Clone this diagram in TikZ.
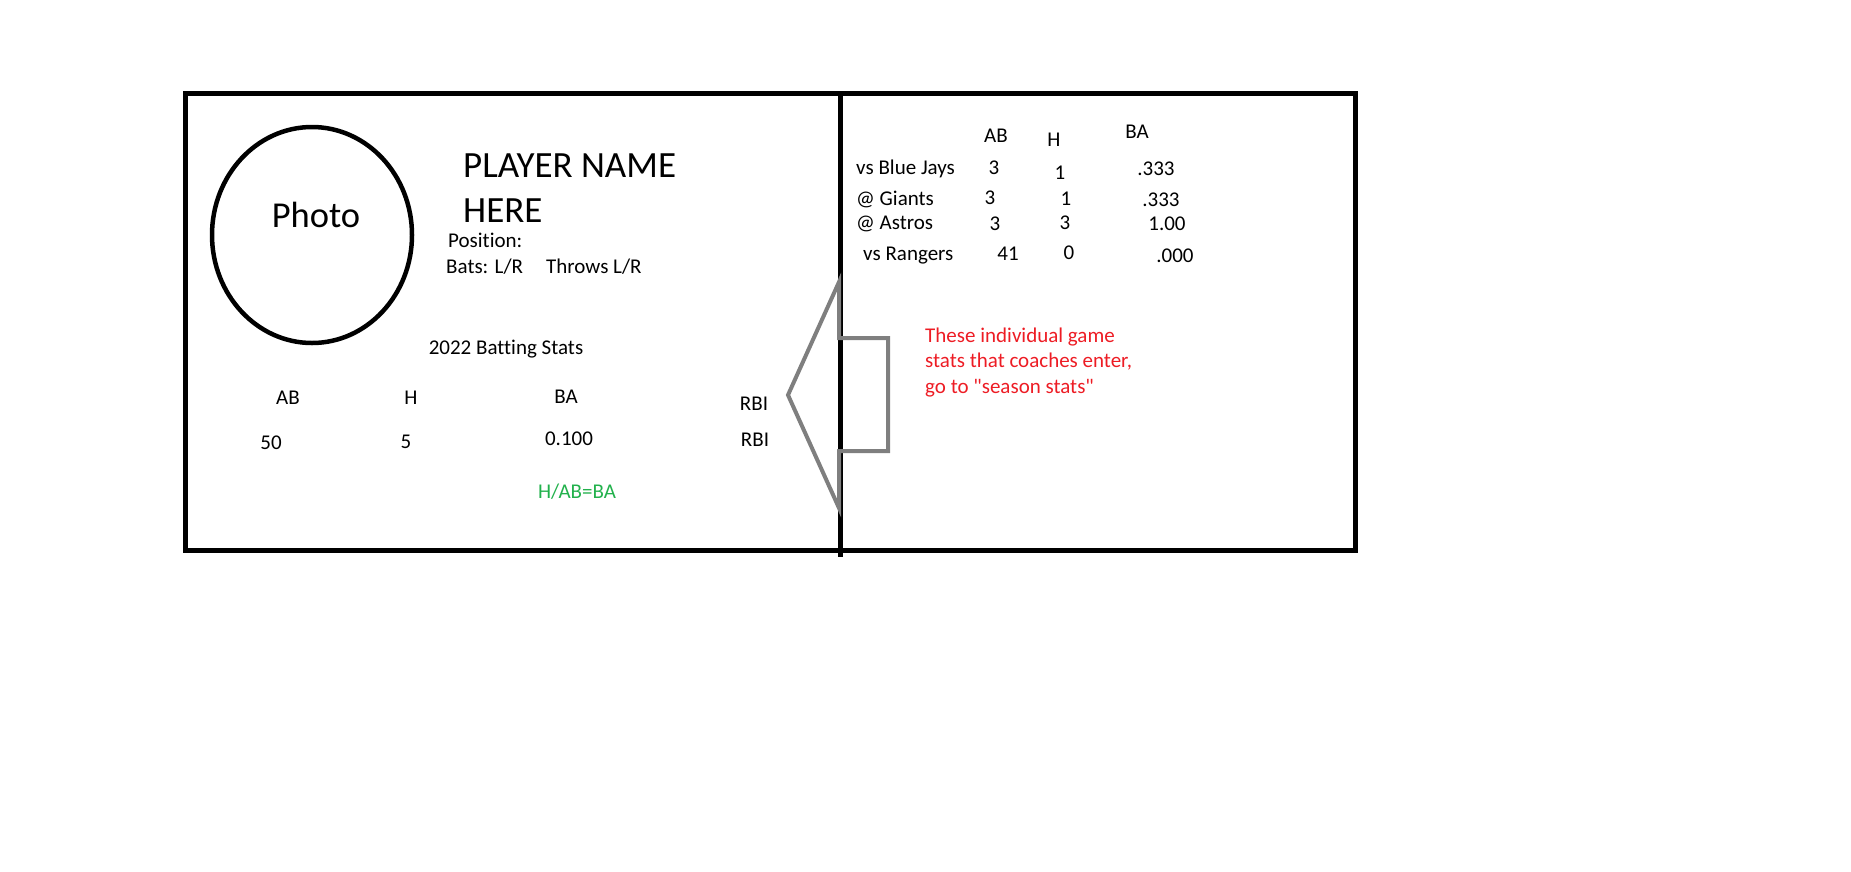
\documentclass[tikz,border=0pt]{standalone}
\usepackage{fontspec}
\setmainfont{Carlito}[Ligatures={TeXOff,CommonOff}]
\usetikzlibrary{shapes.geometric}
\definecolor{pgray}{RGB}{127,127,127}
\definecolor{pred}{RGB}{237,28,36}
\definecolor{pgreen}{RGB}{34,177,76}
\begin{document}
\begin{tikzpicture}[x=1pt,y=-1pt,
  txt/.style={inner sep=0pt, font=\fontsize{21}{25}\selectfont},
  big/.style={inner sep=0pt, font=\fontsize{37}{42}\selectfont},
  frame/.style={line width=5pt, black},
  arrowshape/.style={line width=4pt, pgray, line join=miter}]
\useasboundingbox (0,0) rectangle (1851,871);
% frame
\draw[frame] (185,93) rectangle (1355,550);
\coordinate (dtop) at (840.5,93);
\coordinate (dbot) at (840.5,557);
\draw[frame] (dtop) -- (dbot);
% photo
\node[draw, line width=4.5pt, ellipse, minimum width=200pt, minimum height=216pt, inner sep=0pt] (photoring) at (312,235) {};
\node[anchor=base, inner sep=0pt, font=\fontsize{36.5}{40}\selectfont] (photo) at (316,227) {Photo};
% name
\node[big, anchor=base west] (name1) at (463,177) {PLAYER NAME};
\node[big, anchor=base west] (name2) at (463,222) {HERE};
\node[txt, anchor=base west] (pos) at (448,247) {Position:};
\node[txt, anchor=base west] (bats) at (446,273) {Bats: L/R};
\node[txt, anchor=base west] (throws) at (546,273) {Throws L/R};
% season stats
\node[txt, anchor=base] (title) at (506,354) {2022 Batting Stats};
\node[txt, anchor=base] (hab) at (288,404) {AB};
\node[txt, anchor=base] (hh) at (411,404) {H};
\node[txt, anchor=base] (hba) at (566,403) {BA};
\node[txt, anchor=base] (hrbi) at (754,410) {RBI};
\node[txt, anchor=base] (vab) at (271,449) {50};
\node[txt, anchor=base] (vh) at (406,448) {5};
\node[txt, anchor=base] (vba) at (569,445) {0.100};
\node[txt, anchor=base] (vrbi) at (755,446) {RBI};
\node[txt, anchor=base, text=pgreen] (formula) at (577,498) {H/AB=BA};
% arrow
\draw[arrowshape] (839,282) -- (788,395) -- (839,508) -- (839,451) -- (888,451) -- (888,338) -- (839,338) -- cycle;
% game stats
\node[txt, anchor=base] (gab) at (996,142) {AB};
\node[txt, anchor=base] (gh) at (1054,146) {H};
\node[txt, anchor=base] (gba) at (1137,138) {BA};
\node[txt, anchor=base west] (g1) at (856,174) {vs Blue Jays};
\node[txt, anchor=base] (g1ab) at (994,174) {3};
\node[txt, anchor=base] (g1h) at (1060,179) {1};
\node[txt, anchor=base] (g1ba) at (1156,175) {.333};
\node[txt, anchor=base west] (g2) at (856,205) {@ Giants};
\node[txt, anchor=base] (g2ab) at (990,204) {3};
\node[txt, anchor=base] (g2h) at (1066,205) {1};
\node[txt, anchor=base] (g2ba) at (1161,206) {.333};
\node[txt, anchor=base west] (g3) at (856,229) {@ Astros};
\node[txt, anchor=base] (g3ab) at (995,230) {3};
\node[txt, anchor=base] (g3h) at (1065,229) {3};
\node[txt, anchor=base] (g3ba) at (1167,230) {1.00};
\node[txt, anchor=base west] (g4) at (863,260) {vs Rangers};
\node[txt, anchor=base] (g4ab) at (1008,260) {41};
\node[txt, anchor=base] (g4h) at (1069,259) {0};
\node[txt, anchor=base] (g4ba) at (1175,262) {.000};
% note
\node[txt, anchor=base west, text=pred] (note1) at (925,342) {These individual game};
\node[txt, anchor=base west, text=pred] (note2) at (925,367) {stats that coaches enter,};
\node[txt, anchor=base west, text=pred] (note3) at (925,393) {go to "season stats"};
\end{tikzpicture}
\end{document}
